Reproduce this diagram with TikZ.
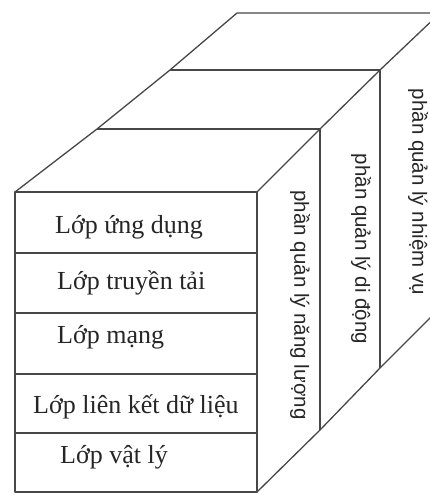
\documentclass[tikz,border=0pt]{standalone}
\usepackage{fontspec}
\setmainfont{Liberation Serif}
\newfontfamily\armfont{Liberation Sans}
\begin{document}
\begin{tikzpicture}[x=1pt,y=-1pt,
  edge/.style={draw=black!72,line width=1.3pt,line join=round},
  layer/.style={font=\fontsize{26}{30}\selectfont,text=black!85,anchor=west,inner sep=0pt},
  plane/.style={font=\armfont\fontsize{20.5}{24}\selectfont,text=black!85,rotate=-90,inner sep=0pt}]
\useasboundingbox (0,0) rectangle (430,495);
\fill[white] (0,0) rectangle (430,495);
\begin{scope}
\clip (0,0) rectangle (430,495);
% corner points of the stacked slabs
\coordinate (f1) at (15,192);  \coordinate (f2) at (257,192);
\coordinate (f3) at (257,492); \coordinate (f4) at (15,492);
\coordinate (a1) at (97,129);  \coordinate (a2) at (320,129); \coordinate (a3) at (320,430);
\coordinate (b1) at (170,70);  \coordinate (b2) at (380,70);  \coordinate (b3) at (380,368);
\coordinate (c1) at (237,13);  \coordinate (c2) at (440,13);  \coordinate (c3) at (440,308);
% front face with the protocol layers
\draw[edge] (f1) rectangle (f3);
\foreach \y in {253,313,374,433} \draw[edge] (15,\y) -- (257,\y);
% top faces
\draw[edge] (f1) -- (a1) -- (b1) -- (c1) -- (c2);
\draw[edge] (a1) -- (a2);
\draw[edge] (b1) -- (b2);
% side faces
\draw[edge] (f2) -- (a2) -- (b2) -- (c2) -- (c3) -- (b3) -- (a3) -- (f3);
\draw[edge] (a2) -- (a3);
\draw[edge] (b2) -- (b3);
\end{scope}
% layer names
\node[layer] (l1) at (55,227) {Lớp ứng dụng};
\node[layer] (l2) at (57,283) {Lớp truyền tải};
\node[layer] (l3) at (57,337) {Lớp mạng};
\node[layer] (l4) at (33,407) {Lớp liên kết dữ liệu};
\node[layer] (l5) at (60,457) {Lớp vật lý};
% management planes
\node[plane] (p1) at (300,305) {phần quản lý năng lượng};
\node[plane] (p2) at (361,249) {phần quản lý di động};
\node[plane] (p3) at (418,192) {phần quản lý nhiệm vụ};
\end{tikzpicture}
\end{document}
